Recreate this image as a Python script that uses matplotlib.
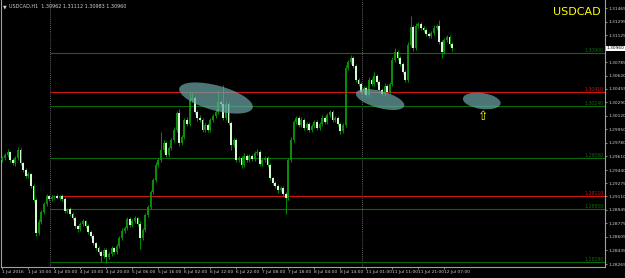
import matplotlib
matplotlib.use("Agg")
import matplotlib.pyplot as plt
from matplotlib.patches import Ellipse
from matplotlib.transforms import IdentityTransform
import numpy as np

# USDCAD H1 candles
first_open = 1.29565
closes = [
    1.29590, 1.29628, 1.29665, 1.29565, 1.29528, 1.29590, 1.29690, 1.29528, 1.29440, 1.29365,
    1.29390, 1.29240, 1.29065, 1.28653, 1.28790, 1.28915, 1.29015, 1.29115, 1.29078, 1.29103,
    1.29115, 1.29090, 1.29115, 1.29078, 1.28928, 1.28953, 1.28890, 1.28840, 1.28740, 1.28703,
    1.28765, 1.28803, 1.28740, 1.28665, 1.28615, 1.28528, 1.28465, 1.28415, 1.28365, 1.28440,
    1.28353, 1.28390, 1.28465, 1.28415, 1.28490, 1.28590, 1.28678, 1.28715, 1.28828, 1.28753,
    1.28803, 1.28840, 1.28765, 1.28590, 1.28690, 1.28878, 1.28978, 1.29165, 1.29315, 1.29503,
    1.29565, 1.29690, 1.29778, 1.29628, 1.29715, 1.29815, 1.29940, 1.30153, 1.29778, 1.29853,
    1.30065, 1.30015, 1.30315, 1.30340, 1.30165, 1.30090, 1.30065, 1.29940, 1.30003, 1.29940,
    1.30065, 1.30115, 1.30165, 1.30290, 1.30265, 1.30090, 1.30265, 1.30028, 1.29753, 1.29815,
    1.29565, 1.29590, 1.29503, 1.29615, 1.29565, 1.29615, 1.29578, 1.29653, 1.29665, 1.29515,
    1.29565, 1.29590, 1.29503, 1.29340, 1.29278, 1.29240, 1.29190, 1.29215, 1.29140, 1.29090,
    1.29565, 1.29815, 1.30040, 1.30090, 1.30003, 1.30065, 1.29965, 1.30015, 1.29940, 1.29990,
    1.30040, 1.29965, 1.30015, 1.30090, 1.30040, 1.30128, 1.30165, 1.30065, 1.30090, 1.30015,
    1.29928, 1.30003, 1.30715, 1.30790, 1.30840, 1.30740, 1.30565, 1.30515, 1.30415, 1.30465,
    1.30378, 1.30565, 1.30515, 1.30615, 1.30540, 1.30440, 1.30390, 1.30490, 1.30415, 1.30515,
    1.30815, 1.30915, 1.30840, 1.30765, 1.30665, 1.30565, 1.31003, 1.31228, 1.30965, 1.31240,
    1.31265, 1.31215, 1.31190, 1.31140, 1.31115, 1.31153, 1.31215, 1.31240, 1.31040, 1.30915,
    1.31065, 1.31103, 1.31015, 1.30960,
]
# wick lengths beyond the body, in pips
upper_pips = [
    2, 3, 4, 1, 2, 3, 4, 2, 1, 3,  2, 1, 3, 2, 4, 2, 3, 2, 1, 2,
    1, 2, 1, 2, 3, 1, 2, 2, 3, 1,  3, 2, 1, 2, 2, 3, 1, 2, 3, 2,
    2, 3, 2, 1, 3, 2, 4, 2, 3, 2,  3, 2, 1, 4, 2, 3, 2, 3, 2, 4,
    3, 22, 4, 3, 2, 3, 4, 3, 5, 2,  3, 4, 10, 8, 3, 2, 4, 3, 2, 3,
    2, 3, 4, 14, 3, 24, 4, 3, 2, 3,  2, 3, 2, 4, 2, 3, 2, 3, 4, 2,
    3, 2, 3, 2, 1, 2, 3, 2, 2, 3,  3, 4, 3, 2, 3, 4, 2, 3, 2, 3,
    2, 3, 2, 4, 3, 2, 3, 2, 3, 2,  3, 2, 4, 3, 4, 2, 3, 2, 3, 2,
    2, 4, 3, 5, 2, 3, 2, 4, 3, 2,  4, 5, 3, 2, 3, 2, 4, 14, 3, 4,
    3, 2, 3, 2, 3, 2, 4, 3, 7, 2,  3, 2, 3, 2,
]
lower_pips = [
    3, 2, 2, 3, 2, 4, 2, 3, 2, 2,  3, 2, 3, 4, 2, 3, 2, 3, 2, 2,
    2, 1, 2, 3, 2, 3, 2, 3, 2, 4,  2, 3, 2, 3, 2, 3, 3, 2, 7, 2,
    8, 2, 3, 2, 3, 2, 2, 3, 2, 3,  2, 3, 2, 14, 3, 2, 3, 2, 3, 2,
    2, 3, 2, 3, 2, 3, 2, 3, 4, 3,  2, 3, 2, 3, 2, 4, 2, 3, 2, 3,
    2, 2, 3, 2, 3, 2, 3, 2, 6, 3,  3, 2, 4, 2, 3, 2, 3, 2, 2, 3,
    2, 3, 2, 3, 2, 3, 4, 2, 3, 20,  3, 2, 3, 2, 3, 2, 3, 2, 3, 2,
    3, 2, 3, 2, 2, 3, 2, 3, 2, 3,  4, 2, 3, 2, 3, 2, 3, 2, 3, 2,
    3, 2, 3, 2, 3, 2, 3, 2, 3, 2,  2, 3, 2, 3, 2, 3, 2, 3, 4, 2,
    2, 3, 2, 3, 2, 3, 2, 3, 2, 7,  2, 3, 2, 3,
]

# x axis labels every 10 bars
tick_bars = [0, 10, 20, 30, 40, 50, 60, 70, 80, 90, 100, 110, 120, 130, 140, 150, 160, 170]
tick_labels = ["1 Jul 2016", "1 Jul 10:00", "4 Jul 00:00", "4 Jul 10:00", "4 Jul 20:00",
               "5 Jul 06:00", "5 Jul 16:00", "6 Jul 02:00", "6 Jul 12:00", "6 Jul 22:00",
               "7 Jul 08:00", "7 Jul 18:00", "8 Jul 04:00", "8 Jul 14:00", "11 Jul 01:00",
               "11 Jul 11:00", "11 Jul 21:00", "12 Jul 07:00"]
week_separators = [18.5, 138.5]

# price scale labels (right side)
price_ticks = [1.31465, 1.31295, 1.31125, 1.30785, 1.30620, 1.30455, 1.30290, 1.30120,
               1.29950, 1.29780, 1.29610, 1.29440, 1.29275, 1.29110, 1.28945, 1.28775,
               1.28605, 1.28435, 1.28265]
current_price = 1.30960

# support / resistance levels: price, colour, first bar
level_prices = [1.30900, 1.30410, 1.30240, 1.29590, 1.29110, 1.28950, 1.28290]
level_colors = ["#0b6b0b", "#d01414", "#0b6b0b", "#0b6b0b", "#d01414", "#0b6b0b", "#0b6b0b"]
level_start = [18.5, 18.5, 18.5, 18.5, 22.5, 18.5, 18.5]

opens = np.array([first_open] + closes[:-1])
closes = np.array(closes)
highs = np.maximum(opens, closes) + np.array(upper_pips) * 0.0001
lows = np.minimum(opens, closes) - np.array(lower_pips) * 0.0001
idx = np.arange(len(closes))

fig = plt.figure(figsize=(6.25, 2.78), dpi=100, facecolor="black")
ax = fig.add_axes([1 / 625, 11 / 278, 604 / 625, 267 / 278])
ax.set_facecolor("black")
ax.set_xlim(-0.5, -0.5 + 604 / 2.6)
ax.set_ylim(1.31565 - 267 / 8000, 1.31565)

for sep in week_separators:
    ax.axvline(sep, color="#808080", lw=0.6, ls=(0, (1, 1.5)), zorder=1)

for p, c, s in zip(level_prices, level_colors, level_start):
    ax.hlines(p, s, ax.get_xlim()[1], color=c, lw=0.8, zorder=2)
    ax.text(ax.get_xlim()[1] - 0.5, p + 0.00003, "%.5f" % p, color=c,
            fontsize=3.3, ha="right", va="bottom", zorder=2)

bull = closes >= opens
ax.vlines(idx, lows, highs, color="#00b400", lw=0.55, zorder=3)
body_h = np.maximum(np.abs(closes - opens), 0.00004)
ax.bar(idx, body_h, bottom=np.minimum(opens, closes), width=0.62,
       color=np.where(bull, "#0c8c0c", "#d8f8d8"), linewidth=0, zorder=4)

# highlighted zones
disp = ax.transData.transform
for (bx, py, w, h, ang) in [(82.2, 1.30340, 76, 25, -15),
                            (145.3, 1.30321, 50, 17, -15),
                            (184.4, 1.30303, 38, 16, -8)]:
    cx, cy = disp((bx, py))
    ax.add_patch(Ellipse((cx, cy), w, h, angle=ang, transform=IdentityTransform(),
                         facecolor="#6aa5a5", alpha=0.72, edgecolor="none", zorder=5))
ax.text(184.9, 1.30103, "\u21e7", color="#ffff00", fontsize=9, ha="center", va="center", zorder=6)

ax.text(0.992, 0.955, "USDCAD", transform=ax.transAxes, color="#ffff00", fontsize=8,
        ha="right", va="center")

# axes styling
for side in ["left", "bottom", "right"]:
    ax.spines[side].set_color("#a0a0a0")
    ax.spines[side].set_linewidth(0.8)
ax.spines["top"].set_visible(False)
ax.yaxis.tick_right()
ax.set_yticks(price_ticks)
ax.set_yticklabels(["%.5f" % v for v in price_ticks])
ax.set_xticks(tick_bars)
ax.set_xticklabels(tick_labels, ha="left")
ax.tick_params(axis="both", colors="#a0a0a0", labelcolor="#d0d0d0", labelsize=3.2,
               length=1.5, width=0.6, pad=0.8)
ax.text(1.003, current_price, "%.5f" % current_price, transform=ax.get_yaxis_transform(),
        fontsize=3.2, color="black", va="center", ha="left",
        bbox=dict(boxstyle="square,pad=0.2", facecolor="white", edgecolor="none"))

fig.text(0.004, 0.985, "\u25bc", color="#d0d0d0", fontsize=3.5, va="top")
fig.text(0.014, 0.985, "USDCAD,H1  1.30962 1.31112 1.30983 1.30960", color="#d0d0d0",
         fontsize=3.5, va="top")

fig.savefig("out.png", dpi=100, facecolor="black")
